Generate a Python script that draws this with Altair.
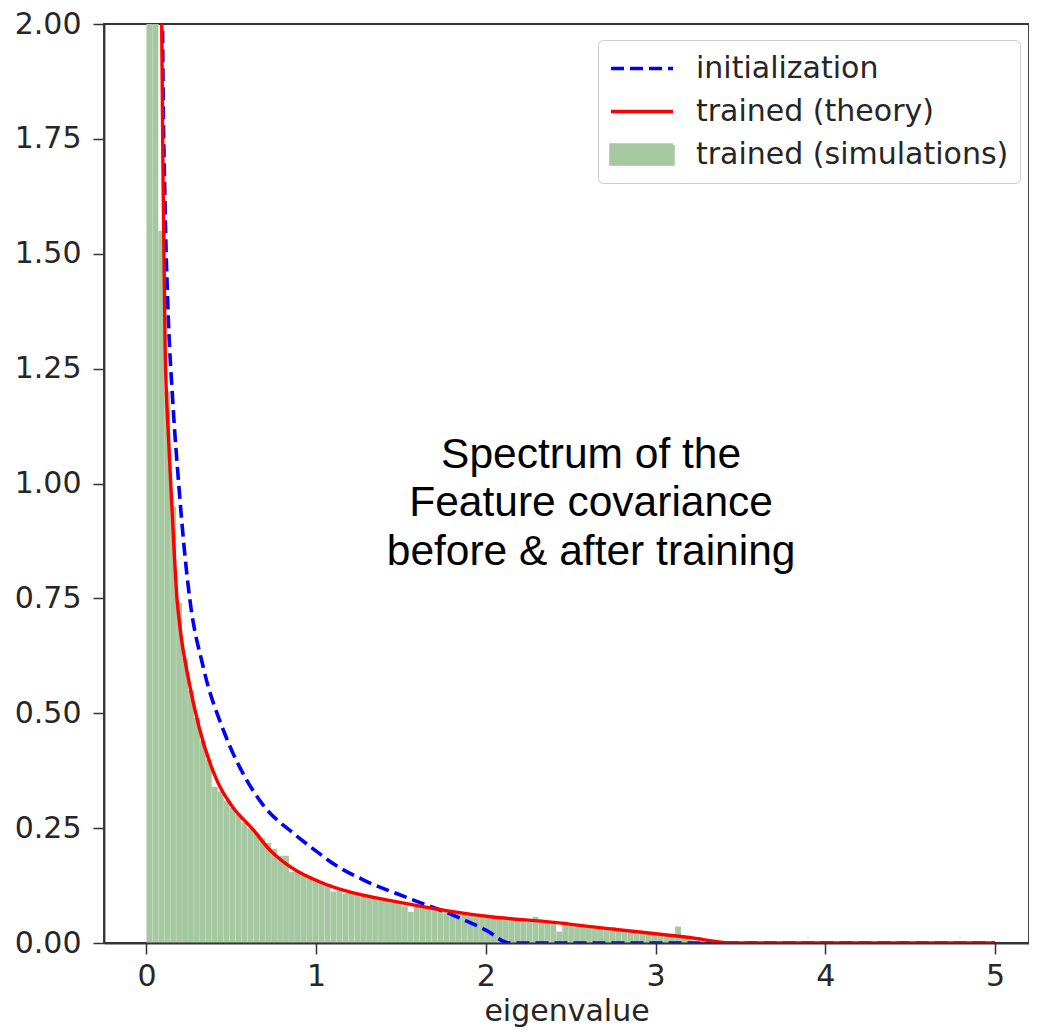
import altair as alt
import pandas as pd
import numpy as np

# ---- data ----
series_names = ["initialization", "trained (theory)", "trained (simulations)"]
series_colors = ["#0000ff", "#ff0000", "#a5c8a0"]

init_x = [0.09, 0.095, 0.11, 0.125, 0.155, 0.19, 0.225, 0.255, 0.335, 0.46, 0.59,
          0.688, 0.865, 1.0, 1.12, 1.28, 1.57, 1.83, 2.0, 2.14, 5.0]
init_y = [2.4, 2.0, 1.6, 1.4, 1.18, 1.0, 0.85, 0.75, 0.60, 0.457, 0.355,
          0.30, 0.239, 0.2, 0.168, 0.137, 0.094, 0.057, 0.028, 0.0, 0.0]

theory_x = [0.085, 0.09, 0.10, 0.11, 0.13, 0.15, 0.18, 0.20, 0.25, 0.31, 0.42, 0.50,
            0.63, 0.728, 0.846, 1.04, 1.16, 1.5, 2.03, 2.4, 2.68, 3.08, 3.2, 3.45, 5.0]
theory_y = [2.4, 2.0, 1.6, 1.3, 1.1, 0.95, 0.75, 0.68, 0.57, 0.47, 0.35, 0.30,
            0.246, 0.202, 0.166, 0.13, 0.115, 0.088, 0.057, 0.045, 0.033, 0.017, 0.012, 0.0, 0.0]

bin_width = 0.035
hist_heights = [
    4.0, 3.0, 1.55, 1.2, 0.95, 0.74, 0.62, 0.55, 0.49, 0.44,
    0.40, 0.34, 0.33, 0.31, 0.295, 0.28, 0.262, 0.25, 0.24, 0.228,
    0.218, 0.205, 0.19, 0.19, 0.155, 0.155, 0.15, 0.145, 0.14, 0.135,
    0.128, 0.112, 0.115, 0.108, 0.11, 0.106, 0.103, 0.10, 0.098, 0.095,
    0.092, 0.09, 0.088, 0.08, 0.068, 0.08, 0.078, 0.076, 0.074, 0.072,
    0.07, 0.068, 0.066, 0.064, 0.062, 0.06, 0.058, 0.057, 0.055, 0.054,
    0.052, 0.05, 0.05, 0.048, 0.05, 0.057, 0.046, 0.045, 0.044, 0.025,
    0.047, 0.04, 0.039, 0.037, 0.036, 0.034, 0.033, 0.032, 0.035, 0.03,
    0.028, 0.027, 0.025, 0.024, 0.022, 0.02, 0.019, 0.018, 0.017, 0.036,
    0.012, 0.008,
]

x_ticks = [0, 1, 2, 3, 4, 5]
y_ticks = [0, 0.25, 0.5, 0.75, 1.0, 1.25, 1.5, 1.75, 2.0]

annotation = "Spectrum of the\nFeature covariance\n\u00a0\u00a0before & after training"
annot_x = 2.62
annot_y = 1.034

# ---- tables ----
lefts = np.arange(len(hist_heights)) * bin_width
hist_df = pd.DataFrame({
    "x0": lefts,
    "x1": lefts + bin_width,
    "y0": 0.0,
    "y1": hist_heights,
    "series": series_names[2],
})
init_df = pd.DataFrame({"x": init_x, "y": init_y, "series": series_names[0], "order": range(len(init_x))})
theory_df = pd.DataFrame({"x": theory_x, "y": theory_y, "series": series_names[1], "order": range(len(theory_x))})
annot_df = pd.DataFrame({"x": [annot_x], "y": [annot_y], "text": [annotation]})

xscale = alt.Scale(domain=[-0.25, 5.2], nice=False, zero=False)
yscale = alt.Scale(domain=[0, 2], nice=False)

FONT = "DejaVu Sans"
TXT = "#262626"
FS = 30

is_sim = f"datum.value === '{series_names[2]}'"
is_init = f"datum.value === '{series_names[0]}'"
is_theo = f"datum.value === '{series_names[1]}'"

legend = alt.Legend(
    title=None, orient="none", legendX=494, legendY=16,
    labelFont=FONT, labelFontSize=FS, labelColor=TXT, labelLimit=0,
    symbolSize=961, labelOffset=52,
    symbolType={"expr": f"{is_sim} ? 'M-1,-0.62L3,-0.62L3,0.62L-1,0.62Z' : 'M-1,0L3,0'"},
    symbolFillColor={"expr": f"{is_sim} ? '{series_colors[2]}' : 'transparent'"},
    symbolStrokeColor={"expr": f"{is_init} ? '{series_colors[0]}' : ({is_theo} ? '{series_colors[1]}' : 'transparent')"},
    symbolDash={"expr": f"{is_init} ? [13, 6] : [1, 0]"},
    symbolStrokeWidth=3.5, symbolOpacity=1,
    strokeColor="#cccccc", fillColor="white", padding=11, cornerRadius=5,
    rowPadding=10,
)

color = alt.Color("series:N", scale=alt.Scale(domain=series_names, range=series_colors), legend=legend)

x_axis = alt.Axis(values=x_ticks, format="d", title="eigenvalue", grid=False,
                  labelFont=FONT, labelFontSize=FS, labelColor=TXT, labelPadding=7,
                  titleFont=FONT, titleFontSize=FS, titleColor=TXT, titleFontWeight="normal",
                  titlePadding=5, tickSize=11, tickWidth=1.5, tickColor="#333",
                  domainColor="#333", domainWidth=1.8, zindex=1)
y_axis = alt.Axis(values=y_ticks, format=".2f", title=None, grid=False,
                  labelFont=FONT, labelFontSize=FS, labelColor=TXT, labelPadding=12,
                  tickSize=11, tickWidth=1.5, tickColor="#333",
                  domainColor="#333", domainWidth=1.8, zindex=1)

bars = alt.Chart(hist_df).mark_rect(clip=True, stroke="white", strokeWidth=0.3, strokeOpacity=0.3).encode(
    x=alt.X("x0:Q", scale=xscale, axis=x_axis),
    x2="x1:Q",
    y=alt.Y("y0:Q", scale=yscale, axis=y_axis),
    y2="y1:Q",
    color=color,
)

init_line = alt.Chart(init_df).mark_line(clip=True, strokeWidth=3.6, strokeDash=[13, 6],
                                         interpolate="monotone").encode(
    x=alt.X("x:Q", scale=xscale, axis=x_axis),
    y=alt.Y("y:Q", scale=yscale, axis=y_axis),
    order="order:Q",
    color=color,
)

theory_line = alt.Chart(theory_df).mark_line(clip=True, strokeWidth=3.4,
                                             interpolate="monotone").encode(
    x=alt.X("x:Q", scale=xscale, axis=x_axis),
    y=alt.Y("y:Q", scale=yscale, axis=y_axis),
    order="order:Q",
    color=color,
)

text = alt.Chart(annot_df).mark_text(
    font="Liberation Sans", fontSize=42.5, lineBreak="\n", lineHeight=48.5,
    align="center", baseline="alphabetic", color="black",
).encode(
    x=alt.X("x:Q", scale=xscale, axis=x_axis),
    y=alt.Y("y:Q", scale=yscale, axis=y_axis),
    text="text:N",
)

chart = alt.layer(bars, init_line, theory_line, text).properties(
    width=925, height=919,
    background="white",
    autosize=alt.AutoSizeParams(type="none"),
    padding={"left": 96, "top": 16, "right": 0, "bottom": 84},
).configure_view(stroke="#333333", strokeWidth=1.8)

chart.save("out.html", embed_options={"renderer": "svg", "actions": False})
